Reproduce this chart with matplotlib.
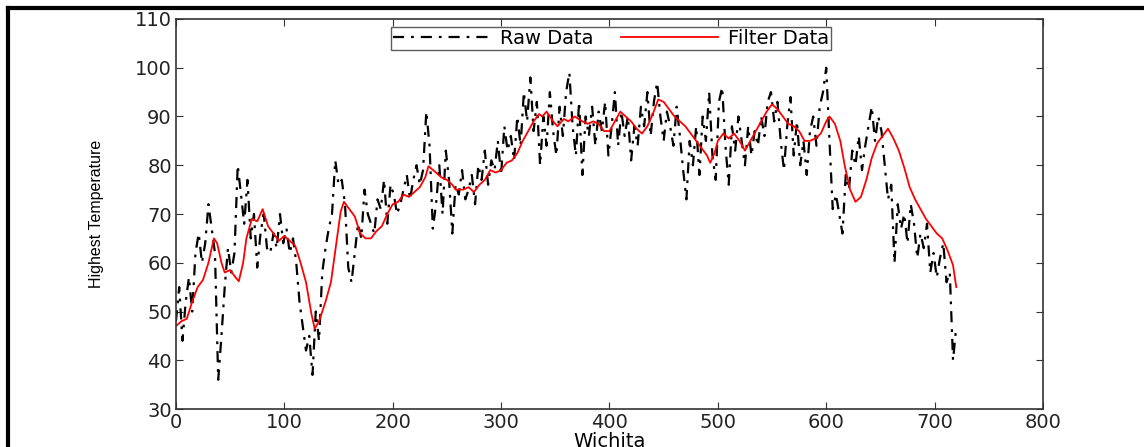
import matplotlib
matplotlib.use("Agg")
import matplotlib.pyplot as plt
from matplotlib.lines import Line2D
import numpy as np

# raw daily highs, read every 3 days (day 0 .. 720)
raw_day = np.arange(0, 723, 3)
raw_temp = [
    48, 55, 44, 52, 57, 50, 62, 66, 60, 64,
    72, 67, 62, 36, 45, 55, 63, 58, 62, 80,
    74, 68, 77, 65, 70, 59, 66, 70, 63, 62,
    66, 63, 70, 64, 67, 62, 65, 60, 52, 47,
    42, 45, 37, 50, 44, 58, 63, 67, 70, 81,
    76, 77, 72, 59, 56, 62, 68, 65, 75, 70,
    68, 66, 73, 71, 77, 68, 76, 74, 70, 72,
    75, 78, 73, 77, 80, 76, 79, 91, 84, 67,
    72, 80, 70, 83, 77, 66, 76, 74, 79, 73,
    75, 78, 72, 80, 77, 83, 76, 81, 79, 85,
    78, 88, 83, 86, 81, 90, 84, 95, 89, 98,
    87, 93, 80, 90, 84, 95, 87, 82, 92, 86,
    95, 99, 88, 82, 93, 78, 90, 86, 92, 84,
    91, 87, 93, 82, 88, 95, 84, 91, 86, 90,
    81, 88, 84, 92, 88, 95, 86, 93, 97, 90,
    85, 91, 88, 84, 92, 86, 79, 73, 85, 80,
    88, 78, 90, 85, 95, 82, 77, 93, 96, 84,
    76, 88, 83, 90, 85, 80, 88, 82, 87, 84,
    90, 86, 93, 95, 89, 93, 85, 79, 88, 94,
    82, 89, 80, 85, 78, 87, 90, 84, 92, 95,
    100, 85, 71, 74, 70, 66, 78, 75, 83, 80,
    86, 79, 84, 88, 92, 85, 90, 87, 80, 73,
    76, 60, 72, 67, 70, 64, 72, 68, 61, 66,
    63, 68, 58, 62, 57, 61, 64, 56, 58, 40,
    47,
]

# filtered curve
filt_day = [0, 5, 10, 15, 20, 25, 30, 35, 38, 42, 45, 50, 55, 58, 62, 65, 70, 75, 80, 85,
            90, 95, 100, 105, 110, 115, 120, 125, 128, 132, 138, 143, 148, 152, 155, 160,
            165, 170, 175, 180, 185, 190, 195, 200, 205, 210, 215, 220, 225, 230, 233, 240,
            245, 250, 255, 258, 265, 270, 275, 280, 285, 290, 295, 300, 305, 310, 315, 320,
            325, 330, 335, 338, 342, 348, 352, 358, 362, 368, 375, 380, 385, 390, 395, 400,
            405, 410, 415, 420, 425, 430, 435, 440, 445, 450, 455, 460, 465, 470, 475, 480,
            485, 490, 493, 497, 500, 505, 510, 515, 520, 525, 530, 535, 540, 545, 550, 555,
            560, 565, 570, 575, 580, 585, 590, 595, 600, 603, 608, 613, 617, 622, 627, 632,
            637, 642, 647, 652, 657, 662, 667, 672, 677, 682, 687, 692, 697, 702, 707, 712,
            717, 720]
filt_temp = [47, 48, 48.5, 52, 55, 56.5, 60, 65, 64, 60, 58, 58.5, 57, 56.2, 60, 65, 69, 68.5, 71, 67.5,
             66, 64.5, 65.5, 64.5, 63.5, 60, 56, 49.5, 46.5, 48, 52, 56, 64, 70.5, 72.5, 71,
             69.5, 66, 65, 65, 66.5, 67.5, 70, 72, 72.5, 74, 73.5, 74.5, 75.5, 77.5, 79.8, 78.5,
             77.5, 77, 76, 75, 75, 75.5, 74.5, 76, 77, 79, 78.5, 79, 80.5, 81, 82.5, 85,
             87, 89, 90.5, 90, 91, 89, 88, 89.5, 89, 90, 89, 88.5, 89, 88.5, 87, 87,
             89, 91, 90, 89, 87.5, 86.5, 88, 90.5, 93.5, 93, 91.5, 90, 89, 88, 86.5, 85,
             83.5, 82, 80.5, 82.5, 85, 86.5, 85.5, 86.5, 85, 83, 85, 87, 89, 91, 92.5, 91.5,
             90, 88.5, 88, 87, 85, 85, 85.5, 86.5, 89, 90, 88.5, 85, 80, 75, 72.5, 73.5,
             77, 81.5, 84.5, 86, 87.5, 85.5, 83, 79.5, 75.5, 73, 71, 69, 67.5, 66, 65, 62.5,
             59.5, 55]

plt.rcParams['font.family'] = ['DejaVu Sans']
plt.rcParams['lines.scale_dashes'] = False

fig = plt.figure(figsize=(11.44, 4.47), dpi=100)
ax = fig.add_axes([0.1538, 0.085, 0.7579, 0.8725])

ax.plot(raw_day, raw_temp, color='black', linestyle=(0, (8, 5, 2, 5)), linewidth=1.6,
        label='Raw Data')
ax.plot(filt_day, filt_temp, color='red', linewidth=1.3, label='Filter Data')

ax.set_xlim(0, 800)
ax.set_ylim(30, 110)
ax.set_xticks(np.arange(0, 801, 100))
ax.set_yticks(np.arange(30, 111, 10))
ax.tick_params(direction='in', top=True, right=True, length=5, labelsize=14,
               color='#333333', labelcolor='#222222', pad=3)
for s in ax.spines.values():
    s.set_color('#333333')
    s.set_linewidth(1.2)

ax.set_ylabel('Highest Temperature', fontsize=11.5, labelpad=22,
              family=['Liberation Sans'])
ax.set_xlabel('Wichita', fontsize=14, labelpad=0)

leg = ax.legend(loc='upper center', ncol=2, fontsize=14, frameon=True, fancybox=False,
                handlelength=5.0, columnspacing=1.4, borderpad=0.1, handletextpad=0.5,
                bbox_to_anchor=(0.502, 0.985), borderaxespad=0.1)
leg.get_frame().set_edgecolor('#333333')
leg.get_frame().set_linewidth(1.0)

# page frame (top and left edges only)
fig.add_artist(Line2D([0.007, 1.0], [0.982, 0.982], color='black', linewidth=3,
                      transform=fig.transFigure))
fig.add_artist(Line2D([0.007, 0.007], [0.0, 0.982], color='black', linewidth=3,
                      transform=fig.transFigure))

fig.savefig('out.png', dpi=100)
